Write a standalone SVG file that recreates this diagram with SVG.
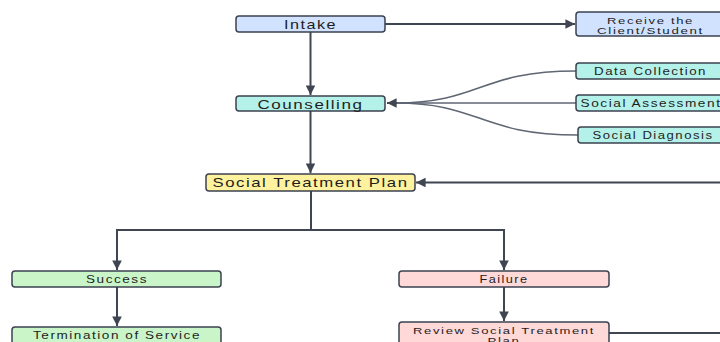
<svg xmlns="http://www.w3.org/2000/svg" width="720" height="342" viewBox="0 0 720 342">
<style>
.box{stroke:#3b4250;stroke-width:1.5}
.blue{fill:#d0e2fd}
.teal{fill:#b4f1e8}
.yellow{fill:#fff29f}
.green{fill:#c9f5c9}
.pink{fill:#ffd8d8}
.big{font-family:"Liberation Sans",Arial,sans-serif;font-size:13px;fill:#1e1e1e;text-anchor:middle;letter-spacing:1.2px}
.small{font-family:"Liberation Sans",Arial,sans-serif;font-size:10.5px;fill:#1e1e1e;text-anchor:middle;letter-spacing:1.2px}
.two{font-size:9.5px}
.ln{fill:none;stroke:#3f4652;stroke-width:2}
.cv{fill:none;stroke:#5f6673;stroke-width:1.5}
</style>
<defs>
<marker id="ah" viewBox="0 0 10 10" refX="10" refY="5" markerWidth="5" markerHeight="4.8" orient="auto" markerUnits="strokeWidth">
<path d="M0,0 L10,5 L0,10 z" fill="#3f4652"/>
</marker>
</defs>
<g id="connectors">
<path class="ln" d="M310.5 32 V95" marker-end="url(#ah)"/>
<path class="ln" d="M385 24 H575" marker-end="url(#ah)"/>
<path class="cv" d="M576 71 C480 71 480 103 396 103"/>
<path class="cv" d="M576 103 H396"/>
<path class="cv" d="M578 135 C480 135 480 103 396 103"/>
<path class="ln" d="M397 103 H387" marker-end="url(#ah)"/>
<path class="ln" d="M310.5 111 V173" marker-end="url(#ah)"/>
<path class="ln" d="M311 191 V230 H117 V270" marker-end="url(#ah)"/>
<path class="ln" d="M311 230 H504 V270" marker-end="url(#ah)"/>
<path class="ln" d="M117 287 V326" marker-end="url(#ah)"/>
<path class="ln" d="M504 287 V321" marker-end="url(#ah)"/>
<path class="ln" d="M609 333 H760 V182.5 H416" marker-end="url(#ah)"/>
</g>
<g id="intake">
<rect class="box blue" x="236" y="16" width="149" height="16" rx="3"/>
<text class="big" x="310.5" y="29" textLength="53" lengthAdjust="spacingAndGlyphs">Intake</text>
</g>
<g id="receive">
<rect class="box blue" x="576" y="12" width="148" height="24" rx="3"/>
<text class="small two" x="650.5" y="23.5" textLength="87" lengthAdjust="spacingAndGlyphs">Receive the</text>
<text class="small two" x="650.5" y="33.5" textLength="107" lengthAdjust="spacingAndGlyphs">Client/Student</text>
</g>
<g id="counselling">
<rect class="box teal" x="236" y="96" width="149" height="15" rx="3"/>
<text class="big" x="310.5" y="108.5" textLength="106" lengthAdjust="spacingAndGlyphs">Counselling</text>
</g>
<g id="data-collection">
<rect class="box teal" x="576" y="63" width="150" height="16" rx="3"/>
<text class="small" x="650.5" y="75" textLength="113" lengthAdjust="spacingAndGlyphs">Data Collection</text>
</g>
<g id="social-assessment">
<rect class="box teal" x="576" y="95" width="150" height="16" rx="3"/>
<text class="small" x="651" y="107" textLength="141" lengthAdjust="spacingAndGlyphs">Social Assessment</text>
</g>
<g id="social-diagnosis">
<rect class="box teal" x="578" y="127" width="150" height="16" rx="3"/>
<text class="small" x="653" y="138.5" textLength="121" lengthAdjust="spacingAndGlyphs">Social Diagnosis</text>
</g>
<g id="social-treatment-plan">
<rect class="box yellow" x="206" y="174" width="209" height="17" rx="3"/>
<text class="big" x="310.5" y="187" textLength="196" lengthAdjust="spacingAndGlyphs">Social Treatment Plan</text>
</g>
<g id="success">
<rect class="box green" x="12" y="271" width="209" height="16" rx="3"/>
<text class="small" x="117" y="282.5" textLength="62" lengthAdjust="spacingAndGlyphs">Success</text>
</g>
<g id="termination">
<rect class="box green" x="12" y="327" width="209" height="24" rx="3"/>
<text class="small" x="117" y="338.5" textLength="168" lengthAdjust="spacingAndGlyphs">Termination of Service</text>
</g>
<g id="failure">
<rect class="box pink" x="399" y="271" width="210" height="16" rx="3"/>
<text class="small" x="504" y="282.5" textLength="49" lengthAdjust="spacingAndGlyphs">Failure</text>
</g>
<g id="review">
<rect class="box pink" x="399" y="322" width="210" height="30" rx="3"/>
<text class="small two" x="504" y="333.5" textLength="182" lengthAdjust="spacingAndGlyphs">Review Social Treatment</text>
<text class="small two" x="504" y="343.5" textLength="33" lengthAdjust="spacingAndGlyphs">Plan</text>
</g>
</svg>
